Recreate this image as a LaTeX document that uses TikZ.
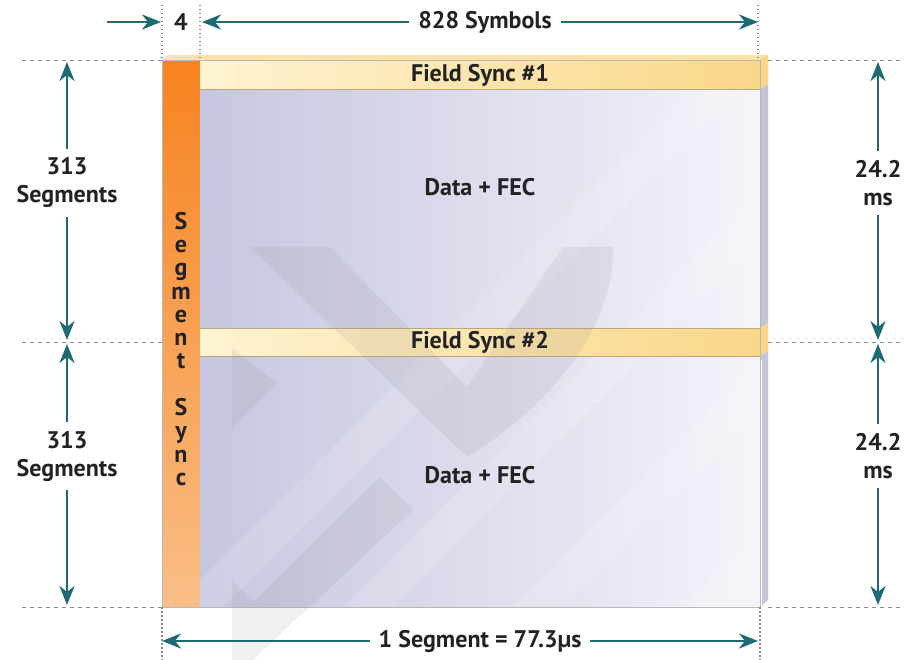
\documentclass[tikz,border=0pt]{standalone}
\usepackage{fontspec}
\setmainfont{PT Sans}
\usetikzlibrary{arrows.meta}
\definecolor{cteal}{HTML}{1D6A73}
\definecolor{corange}{HTML}{F7831F}
\definecolor{cpeach}{HTML}{F9BE86}
\definecolor{tyellow}{HTML}{FEF4D2}
\definecolor{cyellow}{HTML}{FAD689}
\definecolor{cband}{HTML}{BBA97E}
\definecolor{tlilac}{HTML}{C6C6E0}
\definecolor{tmist}{HTML}{F4F4FA}
\definecolor{cside}{HTML}{C4C4D8}
\definecolor{cgray}{HTML}{8A8A8A}
\definecolor{ctext}{HTML}{222222}

\begin{document}
\begin{tikzpicture}[x=1pt, y=-1pt, line cap=butt,
  font=\fontsize{24}{28}\selectfont\bfseries, text=ctext,
  dim/.style={cteal, line width=2.6pt, -{Stealth[length=19pt,width=15pt,inset=6pt]}},
  guide/.style={cgray, dash pattern=on 4pt off 4pt, line width=0.9pt},
  tick/.style={cgray, dash pattern=on 1.5pt off 2.5pt, line width=1.2pt},
  lbl/.style={inner sep=0pt, outer sep=9pt, align=center}]
  \useasboundingbox (0,0) rectangle (904,660);
  \def\xl{162} \def\xs{200} \def\xr{760}
  \def\yt{60} \def\ym{342} \def\yb{607}
  % segment sync column
  \shade[top color=corange, bottom color=cpeach] (\xl,\yt) rectangle (\xs,\yb);
  % data regions
  \shade[left color=tlilac, right color=tmist] (\xs,89) rectangle (\xr,328);
  \shade[left color=tlilac, right color=tmist] (\xs,356) rectangle (\xr,\yb);
  \begin{scope}
    \clip (\xs,89) rectangle (\xr,328) (\xs,356) rectangle (\xr,\yb);
    \foreach \s in {0,170,340,510}
      \fill[white, opacity=0.14] (\s+120,660) -- (\s+170,660) -- (\s+770,60) -- (\s+720,60) -- cycle;
  \end{scope}
  % field sync bands
  \shade[left color=tyellow, right color=cyellow] (\xs,\yt) rectangle (\xr,89);
  \shade[left color=tyellow, right color=cyellow] (\xs,328) rectangle (\xr,356);
  \draw[cband, line width=0.7pt] (\xs,\yt) -- (\xr,\yt) (\xs,89) -- (\xr,89)
    (\xs,328) -- (\xr,328) (\xs,356) -- (\xr,356);
  % 3d edges
  \fill[cyellow!60!tyellow] (\xl,\yt) -- (\xl+6,\yt-5) -- (\xr+8,\yt-5) -- (\xr,\yt) -- cycle;
  \fill[cside] (\xr,\yt) -- (\xr+8,\yt-5) -- (\xr+8,\yb-7) -- (\xr,\yb) -- cycle;
  \fill[cyellow] (\xr,\yt) -- (\xr+8,\yt-5) -- (\xr+8,84) -- (\xr,89) -- cycle;
  \fill[cyellow] (\xr,328) -- (\xr+8,323) -- (\xr+8,351) -- (\xr,356) -- cycle;
  \draw[white, line width=1pt] (\xr+1,360) -- (\xr+1,\yb-2);
  \draw[cgray!60, line width=0.6pt] (\xl,\yt) rectangle (\xr,\yb);
  % watermark
  \begin{scope}[gray, opacity=0.12]
    \fill (250,247) -- (467,457) .. controls (560,400) and (615,320) .. (613,247)
      -- (563,247) -- (467,387) -- (330,247) -- cycle;
    \fill (232,348) -- (277,383) -- (232,428) -- cycle;
    \fill (232,580) -- (253,602) -- (380,477) -- (413,510) -- (253,660) -- (232,660) -- cycle;
  \end{scope}
  % guides
  \draw[guide] (22,\yt) -- (\xl,\yt) (768,\yt) -- (904,\yt);
  \draw[guide] (22,\ym) -- (\xl,\ym) (768,\ym) -- (904,\ym);
  \draw[guide] (22,\yb) -- (\xl,\yb) (768,\yb) -- (904,\yb);
  \draw[tick] (\xl,5) -- (\xl,\yt) (\xs,5) -- (\xs,\yt) (758,5) -- (758,\yt);
  \draw[tick] (\xl,\yb) -- (\xl,660) (\xr,\yb) -- (\xr,660);
  % labels
  \node[lbl] (four) at (181,22) {4};
  \node[lbl] (symbols) at (485,22) {828 Symbols};
  \node[lbl] (fsone) at (480,75) {Field Sync \#1};
  \node[lbl] (fstwo) at (480,342) {Field Sync \#2};
  \node[lbl] (dataone) at (480,187) {Data + FEC};
  \node[lbl] (datatwo) at (480,475) {Data + FEC};
  \node[lbl, anchor=north, font=\fontsize{24}{23.3}\selectfont\bfseries] (segsync) at (181,203)
    {S\\e\\g\\m\\e\\n\\t\\[23.3pt]S\\y\\n\\c};
  \node[lbl] (segsone) at (67,183) {313\\Segments};
  \node[lbl] (segstwo) at (67,456) {313\\Segments};
  \node[lbl] (msone) at (878,183) {24.2\\ms};
  \node[lbl] (mstwo) at (878,456) {24.2\\ms};
  \node[lbl] (segment) at (480,641) {1 Segment = 77.3µs};
  % dimension arrows
  \coordinate (fourin) at (107,22);
  \coordinate (fourtip) at (161,22);
  \coordinate (symleft) at (202,22);
  \coordinate (symright) at (758,22);
  \coordinate (lonetop) at (67,62);
  \coordinate (lonebot) at (67,340);
  \coordinate (ltwotop) at (67,344);
  \coordinate (ltwobot) at (67,605);
  \coordinate (ronetop) at (878,62);
  \coordinate (ronebot) at (878,340);
  \coordinate (rtwotop) at (878,344);
  \coordinate (rtwobot) at (878,605);
  \coordinate (segleft) at (\xl,641);
  \coordinate (segright) at (758,641);
  \draw[dim] (fourin) -- (fourtip);
  \draw[dim] (symbols) -- (symleft);
  \draw[dim] (symbols) -- (symright);
  \draw[dim] (segsone) -- (lonetop);
  \draw[dim] (segsone) -- (lonebot);
  \draw[dim] (segstwo) -- (ltwotop);
  \draw[dim] (segstwo) -- (ltwobot);
  \draw[dim] (msone) -- (ronetop);
  \draw[dim] (msone) -- (ronebot);
  \draw[dim] (mstwo) -- (rtwotop);
  \draw[dim] (mstwo) -- (rtwobot);
  \draw[dim] (segment) -- (segleft);
  \draw[dim] (segment) -- (segright);
\end{tikzpicture}
\end{document}
